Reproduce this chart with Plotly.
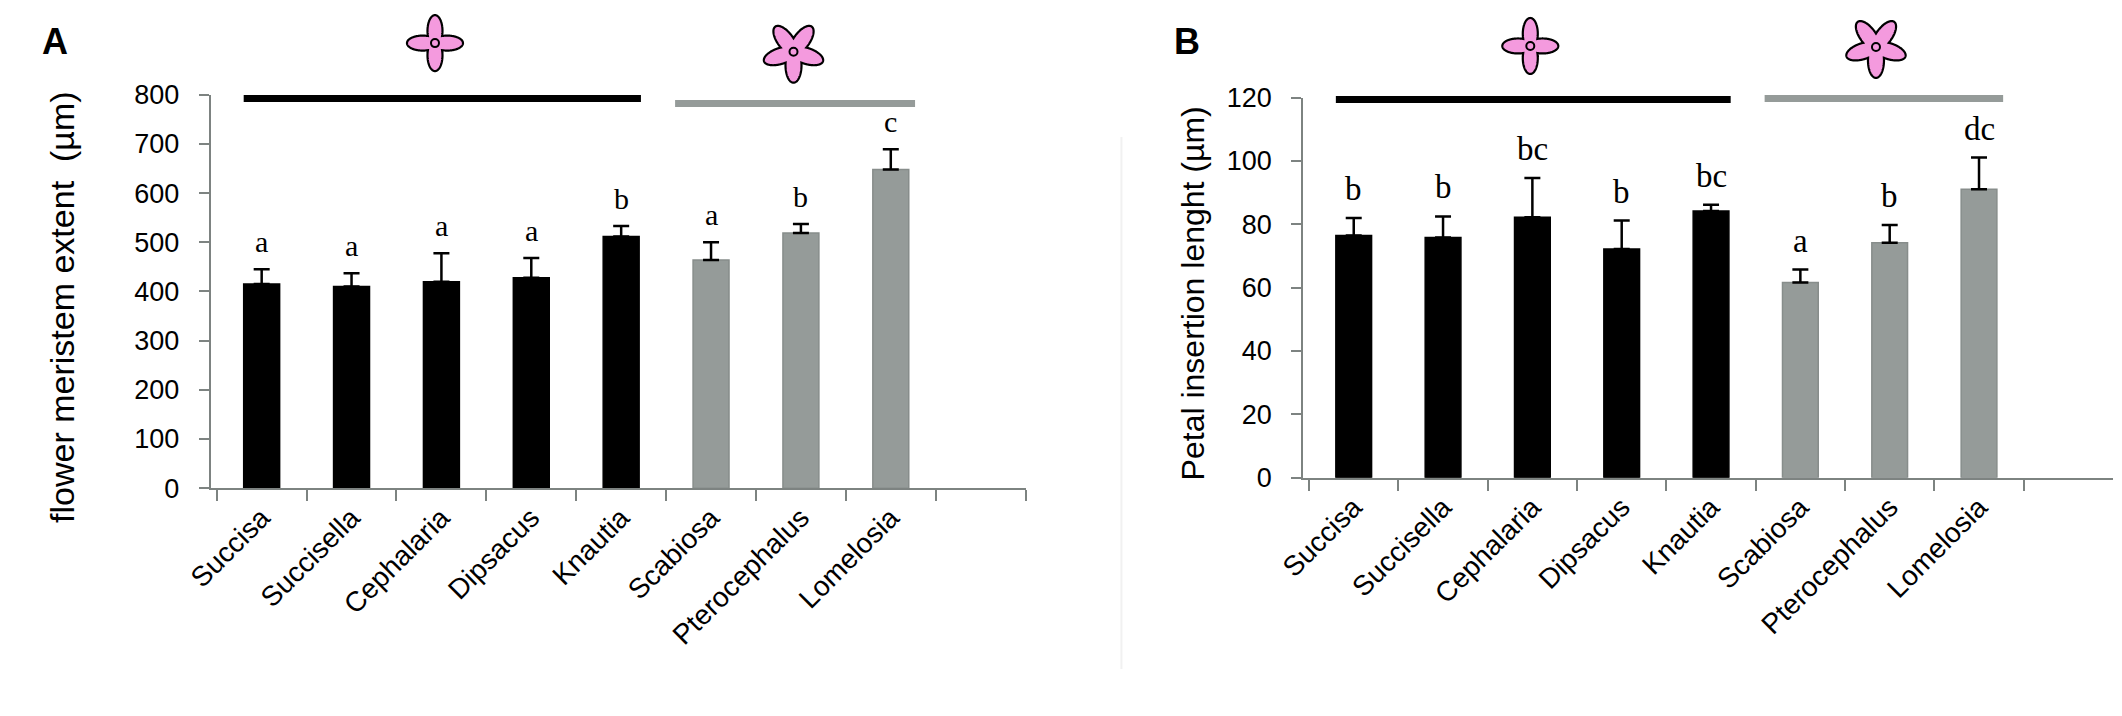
import numpy as np
import plotly.graph_objects as go

# genera, first five have a 4-merous corolla, last three a 5-merous one
genera = ["Succisa", "Succisella", "Cephalaria", "Dipsacus", "Knautia",
          "Scabiosa", "Pterocephalus", "Lomelosia"]
n_four = 5

# panel A: flower meristem extent (um)
meristem_mean = [415, 410, 420, 428, 512, 464, 519, 648]
meristem_err = [30, 27, 58, 40, 21, 36, 18, 41]
meristem_letters = ["a", "a", "a", "a", "b", "a", "b", "c"]

# panel B: petal insertion length (um)
petal_mean = [76.5, 75.8, 82.2, 72.2, 84.2, 61.6, 74.2, 91.1]
petal_err = [5.5, 6.7, 12.4, 9.0, 2.0, 4.1, 5.6, 10.0]
petal_letters = ["b", "b", "bc", "b", "bc", "a", "b", "dc"]

# page body has an 8px margin, so the figure is drawn a bit smaller
PAD = 8
W, H = 2122 - 2 * PAD, 716 - 2 * PAD
BLACK = "#000000"
GRAY = "#959b99"
GRAY_EDGE = "#878d8b"
AXIS = "#7d8381"
PINK = "#f49ade"
SANS = "Arial, Liberation Sans, sans-serif"
SERIF = "Liberation Serif, Times New Roman, serif"


def px(x):
    return (x - PAD) / W


def py(y):
    return 1 - (y - PAD) / H


def flower_path(angles_deg, reach, half_width, n=720):
    # outline of a union of elliptic petals radiating from the centre
    a = reach * 0.56
    d = reach - a
    th = np.linspace(0, 2 * np.pi, n, endpoint=False)
    r = np.zeros_like(th)
    for phi in np.radians(angles_deg):
        c = np.cos(th - phi)
        s = np.sin(th - phi)
        qa = c ** 2 / a ** 2 + s ** 2 / half_width ** 2
        qb = -2 * d * c / a ** 2
        qc = d ** 2 / a ** 2 - 1
        r = np.maximum(r, (-qb + np.sqrt(qb ** 2 - 4 * qa * qc)) / (2 * qa))
    pts = [f"{x:.2f},{y:.2f}" for x, y in zip(r * np.cos(th), r * np.sin(th))]
    return "M " + " L ".join(pts) + " Z"


def add_flower(fig, cx, cy, merous):
    if merous == 4:
        angles, reach, hw = [0, 90, 180, 270], 28, 7.5
    else:
        angles, reach, hw = [54, 126, 198, 270, 342], 31, 8
    common = dict(xref="paper", yref="paper", xsizemode="pixel", ysizemode="pixel",
                  xanchor=px(cx), yanchor=py(cy))
    fig.add_shape(type="path", path=flower_path(angles, reach, hw),
                  fillcolor=PINK, line=dict(color="black", width=2.2), **common)
    fig.add_shape(type="circle", x0=-4, x1=4, y0=-4, y1=4,
                  fillcolor=PINK, line=dict(color="black", width=2), **common)


colors = [BLACK] * n_four + [GRAY] * (len(genera) - n_four)
edges = [BLACK] * n_four + [GRAY_EDGE] * (len(genera) - n_four)

fig = go.Figure()
panels = [
    ("x", "y", meristem_mean, meristem_err, meristem_letters, 30),
    ("x2", "y2", petal_mean, petal_err, petal_letters, 33),
]
for xa, ya, mean, err, letters, lsize in panels:
    fig.add_trace(go.Bar(
        x=genera, y=mean, xaxis=xa, yaxis=ya,
        marker=dict(color=colors, line=dict(color=edges, width=1.5)),
        error_y=dict(type="data", array=err, arrayminus=[0] * len(err), symmetric=False,
                     color="black", thickness=2.5, width=8),
        showlegend=False,
    ))
    for g, m, e, t in zip(genera, mean, err, letters):
        fig.add_annotation(x=g, y=m + e, xref=xa, yref=ya, text=t, showarrow=False,
                           yanchor="bottom", yshift=9,
                           font=dict(family=SERIF, size=lsize, color="black"))

xcommon = dict(categoryorder="array", categoryarray=genera + [" "],
               tickson="boundaries", ticks="outside", ticklen=11, tickwidth=2,
               tickcolor=AXIS, showline=True, linecolor=AXIS, linewidth=2,
               showgrid=False, zeroline=False, tickangle=-45,
               tickfont=dict(family=SANS, size=28, color="black"))
ycommon = dict(ticks="outside", ticklen=10, tickwidth=2, tickcolor=AXIS,
               showline=True, linecolor=AXIS, linewidth=2, showgrid=False,
               zeroline=False, ticklabelstandoff=14,
               tickfont=dict(family=SANS, size=27, color="black"))

# value axis sits a few px left of the first category boundary
fig.update_layout(
    width=W, height=H,
    margin=dict(l=0, r=0, t=0, b=0),
    paper_bgcolor="white", plot_bgcolor="white",
    bargap=0.6,
    xaxis=dict(domain=[px(187), px(1012)], anchor="y", range=[-0.5 - 6 / 90.8, 8.5], **xcommon),
    yaxis=dict(domain=[py(494), py(83)], anchor="x", range=[0, 800], dtick=100, **ycommon),
    xaxis2=dict(domain=[px(1293), px(2113)], anchor="y2", range=[-0.5 - 6 / 90.5, 8.5], **xcommon),
    yaxis2=dict(domain=[py(483), py(86)], anchor="x2", range=[0, 120], dtick=20, **ycommon),
)

# axis titles
fig.add_annotation(x=px(37), y=py(305), xref="paper", yref="paper", showarrow=False,
                   text="flower meristem extent\u00a0 (µm)", textangle=-90,
                   xanchor="center", yanchor="middle",
                   font=dict(family=SANS, size=34, color="black"))
fig.add_annotation(x=px(1181), y=py(291), xref="paper", yref="paper", showarrow=False,
                   text="Petal insertion lenght (µm)", textangle=-90,
                   xanchor="center", yanchor="middle",
                   font=dict(family=SANS, size=32, color="black"))

# panel letters
for txt, x in [("A", 29), ("B", 1175)]:
    fig.add_annotation(x=px(x), y=py(27), xref="paper", yref="paper", showarrow=False,
                       xanchor="center", yanchor="middle", text=f"<b>{txt}</b>",
                       font=dict(family=SANS, size=36, color="black"))

# group bars (4-merous black, 5-merous gray) and flower icons
groups = [
    ("x", 87, 92, 414, 29, 777, 38),
    ("x2", 88, 87, 1523, 32, 1873, 33),
]
for xa, yb, yg, f4x, f4y, f5x, f5y in groups:
    fig.add_shape(type="line", xref=xa, yref="paper", x0=-0.2, x1=4.22, y0=py(yb), y1=py(yb),
                  line=dict(color=BLACK, width=7))
    fig.add_shape(type="line", xref=xa, yref="paper", x0=4.6, x1=7.27, y0=py(yg), y1=py(yg),
                  line=dict(color=GRAY, width=7))
    add_flower(fig, f4x, f4y, 4)
    add_flower(fig, f5x, f5y, 5)

# faint panel separator
fig.add_shape(type="line", xref="paper", yref="paper", x0=px(1109), x1=px(1109),
              y0=py(127), y1=py(683), line=dict(color="#f1f1f1", width=2))

fig.write_html("out.html")
